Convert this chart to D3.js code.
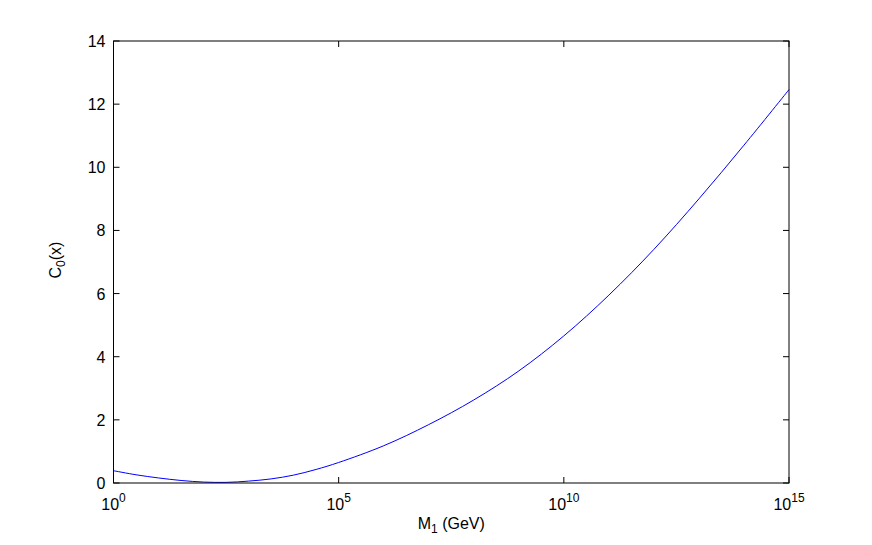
<!DOCTYPE html>
<html>
<head>
<meta charset="utf-8">
<script src="https://cdn.jsdelivr.net/npm/d3@7"></script>
<style>
  body { margin: 0; background: #fff; }
  text { font-family: "Liberation Sans", Arial, Helvetica, sans-serif; fill: #000; }
</style>
</head>
<body>
<svg id="chart" width="872" height="545"></svg>
<script>
// log10 of M1 (GeV) and C0(x)
var massExponents = [0, 0.5, 1, 1.5, 2, 2.5, 3, 3.5, 4, 4.5, 5, 6, 7, 8, 9, 10, 11, 12, 13, 14, 15];
var c0Values = [0.39, 0.26, 0.16, 0.08, 0.03, 0.02, 0.06, 0.13, 0.25, 0.43, 0.65, 1.18, 1.85, 2.63, 3.55, 4.66, 5.95, 7.40, 9.0, 10.70, 12.46];

var xTickExponents = [0, 5, 10, 15];
var yTicks = [0, 2, 4, 6, 8, 10, 12, 14];

var margin = {top: 41, right: 83, bottom: 62, left: 113.5},
    width = 872,
    height = 545;

var svg = d3.select("#chart");

var x = d3.scaleLog()
    .domain([1, 1e15])
    .range([margin.left, width - margin.right]);

var y = d3.scaleLinear()
    .domain([0, 14])
    .range([height - margin.bottom, margin.top]);

var tickLen = 6;

// curve
var points = massExponents.map(function(e, i) {
  return {m: Math.pow(10, e), c: c0Values[i]};
});

var line = d3.line()
    .x(function(d) { return x(d.m); })
    .y(function(d) { return y(d.c); })
    .curve(d3.curveCatmullRom.alpha(0.5));

svg.append("path")
    .datum(points)
    .attr("fill", "none")
    .attr("stroke", "#0000ff")
    .attr("stroke-width", 1)
    .attr("d", line);

// box
var x0 = x.range()[0], x1 = x.range()[1], y0 = y.range()[0], y1 = y.range()[1];
svg.append("rect")
    .attr("x", x0)
    .attr("y", y1)
    .attr("width", x1 - x0)
    .attr("height", y0 - y1)
    .attr("fill", "none")
    .attr("stroke", "#000")
    .attr("stroke-width", 1);

// y ticks (inward on both sides)
var yg = svg.append("g");
yTicks.forEach(function(t) {
  yg.append("line").attr("x1", x0).attr("x2", x0 + tickLen)
    .attr("y1", y(t)).attr("y2", y(t)).attr("stroke", "#000");
  yg.append("line").attr("x1", x1).attr("x2", x1 - tickLen)
    .attr("y1", y(t)).attr("y2", y(t)).attr("stroke", "#000");
  yg.append("text")
    .attr("x", x0 - 8)
    .attr("y", y(t) + 6)
    .attr("text-anchor", "end")
    .style("font-size", "16px")
    .text(t);
});

// x ticks
var xg = svg.append("g");
xTickExponents.forEach(function(e) {
  var px = x(Math.pow(10, e));
  xg.append("line").attr("x1", px).attr("x2", px)
    .attr("y1", y0).attr("y2", y0 - tickLen).attr("stroke", "#000");
  xg.append("line").attr("x1", px).attr("x2", px)
    .attr("y1", y1).attr("y2", y1 + tickLen).attr("stroke", "#000");
  var t = xg.append("text")
    .attr("x", px)
    .attr("y", 510)
    .attr("text-anchor", "middle")
    .style("font-size", "16px");
  t.append("tspan").text("10");
  t.append("tspan")
    .attr("dy", -8)
    .style("font-size", "12px")
    .text(e);
});

// axis labels
var xl = svg.append("text")
    .attr("x", (x0 + x1) / 2)
    .attr("y", 529)
    .attr("text-anchor", "middle")
    .style("font-size", "16px");
xl.append("tspan").text("M");
xl.append("tspan").attr("dy", 4).style("font-size", "12px").text("1");
xl.append("tspan").attr("dy", -4).text(" (GeV)");

var yl = svg.append("text")
    .attr("transform", "translate(61," + ((y0 + y1) / 2 - 2) + ") rotate(-90)")
    .attr("text-anchor", "middle")
    .style("font-size", "16px");
yl.append("tspan").text("C");
yl.append("tspan").attr("dy", 4).style("font-size", "12px").text("0");
yl.append("tspan").attr("dy", -4).text("(x)");
</script>
</body>
</html>
